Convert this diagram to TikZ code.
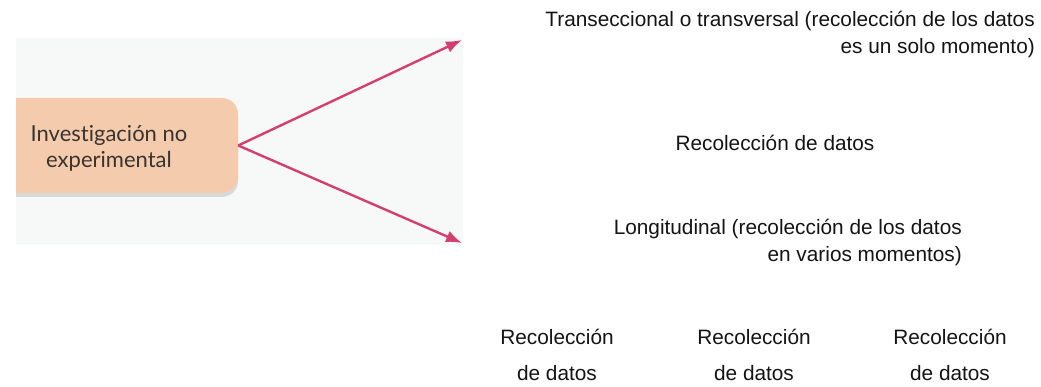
\documentclass[tikz,border=0pt]{standalone}
\usepackage{fontspec}
\setmainfont{Liberation Sans}
\newfontfamily\boxfont[Ligatures=NoCommon]{Lato}
\usetikzlibrary{arrows.meta}
\definecolor{peach}{RGB}{244,203,172}
\definecolor{arrowpink}{RGB}{212,64,110}
\definecolor{boxtext}{RGB}{58,52,48}
\definecolor{photobg}{RGB}{247,248,248}
\definecolor{txt}{RGB}{20,20,20}
\tikzset{
  box/.style={fill=peach, rounded corners=16pt, minimum width=258pt, minimum height=95pt,
    inner sep=0pt},
  boxlabel/.style={inner sep=0pt, align=center, text=boxtext, font=\boxfont\fontsize{22}{26}\selectfont},
  conn/.style={draw=arrowpink, line width=2.4pt, -{Latex[length=16pt,width=12pt]}},
  lbl/.style={inner sep=0pt, text=txt, font=\fontsize{20.8}{27}\selectfont},
  lblr/.style={lbl, align=right, anchor=east},
  lblc/.style={lbl, align=center, font=\fontsize{20.8}{36}\selectfont}
}
\begin{document}
\begin{tikzpicture}[x=1pt,y=-1pt]
\useasboundingbox[fill=white] (0,0) rectangle (1041,387);
\fill[photobg] (16,38) rectangle (463,245);
\begin{scope}
  \clip (16,0) rectangle (1041,387);
  \fill[black, opacity=0.12, rounded corners=16pt] (-20,101) rectangle (238,197);
  \node[box] (inv) at (109,145.5) {};
\end{scope}
\node[boxlabel] (invlabel) at (109,148.5) {Investigación no\\experimental};
\coordinate (tA) at (462,40);
\coordinate (tB) at (462,243);
\draw[conn] (inv.east) -- (tA);
\draw[conn] (inv.east) -- (tB);
\node[lblr] (trans) at (1035,34) {Transeccional o transversal (recolección de los datos\\es un solo momento)};
\node[lbl] (rec1) at (775,143) {Recolección de datos};
\node[lblr] (long) at (962,242) {Longitudinal (recolección de los datos\\en varios momentos)};
\node[lblc] (c1) at (557,355) {Recolección\\de datos};
\node[lblc] (c2) at (754,355) {Recolección\\de datos};
\node[lblc] (c3) at (950,355) {Recolección\\de datos};
\end{tikzpicture}
\end{document}
